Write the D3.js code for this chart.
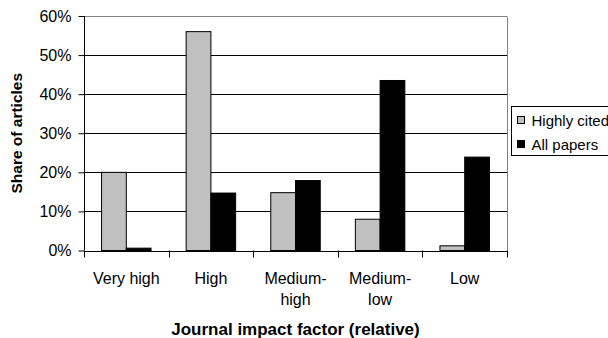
<!DOCTYPE html>
<html>
<head>
<meta charset="utf-8">
<script src="https://cdn.jsdelivr.net/npm/d3@7"></script>
<style>
  body { margin: 0; background: #fff; }
  text { font-family: Arial, "Liberation Sans", sans-serif; fill: #000; }
</style>
</head>
<body>
<div id="chart"></div>
<script>
// data
var categories = ['Very high', 'High', 'Medium-high', 'Medium-low', 'Low'];
var categoryLines = [['Very high'], ['High'], ['Medium-', 'high'], ['Medium-', 'low'], ['Low']];
var seriesNames = ['Highly cited', 'All papers'];
var highlyCited = [0.20, 0.56, 0.148, 0.08, 0.012];
var allPapers = [0.006, 0.147, 0.179, 0.435, 0.239];
var yTicks = [0, 0.1, 0.2, 0.3, 0.4, 0.5, 0.6];
var colors = ['#c0c0c0', '#000000'];

var width = 608,
  height = 338,
  plotLeft = 84,
  plotRight = 507,
  plotTop = 16,
  plotBottom = 250.5;

var svg = d3.select('#chart')
  .append('svg')
  .attr('width', width)
  .attr('height', height);

var x = d3.scaleBand().domain(categories).range([plotLeft, plotRight]).padding(0);
var xs = d3.scaleBand().domain(seriesNames).range([0, x.bandwidth()])
  .paddingInner(0).paddingOuter(0.71);
var y = d3.scaleLinear().domain([0, 0.6]).range([plotBottom, plotTop]);

// gridlines
svg.append('g')
  .selectAll('line')
  .data(yTicks.slice(1))
  .join('line')
  .attr('x1', plotLeft)
  .attr('x2', plotRight)
  .attr('y1', function(d) { return Math.round(y(d)) + 0.5; })
  .attr('y2', function(d) { return Math.round(y(d)) + 0.5; })
  .attr('stroke', function(d) { return d === 0.6 ? '#808080' : '#000'; })
  .attr('stroke-width', 1);

// right border
svg.append('line')
  .attr('x1', plotRight + 0.5).attr('x2', plotRight + 0.5)
  .attr('y1', Math.round(plotTop) + 0.5).attr('y2', plotBottom)
  .attr('stroke', '#808080');

// bars
var rows = categories.map(function(c, i) {
  return { cat: c, values: [highlyCited[i], allPapers[i]] };
});

var groups = svg.append('g')
  .selectAll('g')
  .data(rows)
  .join('g')
  .attr('transform', function(d) { return 'translate(' + x(d.cat) + ',0)'; });

groups.selectAll('rect')
  .data(function(d) {
    return d.values.map(function(v, j) { return { name: seriesNames[j], value: v, idx: j }; });
  })
  .join('rect')
  .attr('x', function(d) { return xs(d.name); })
  .attr('y', function(d) { return y(d.value); })
  .attr('width', xs.bandwidth())
  .attr('height', function(d) { return plotBottom - y(d.value); })
  .attr('fill', function(d) { return colors[d.idx]; })
  .attr('stroke', '#000')
  .attr('stroke-width', 1);

// y axis
var yAxis = svg.append('g')
  .attr('transform', 'translate(' + (plotLeft + 0.5) + ',0)')
  .call(d3.axisLeft(y).tickValues(yTicks).tickFormat(d3.format('.0%')).tickSize(6).tickPadding(7));
yAxis.select('.domain').attr('stroke', '#000').attr('d', 'M0,' + plotTop + 'V' + plotBottom);
yAxis.selectAll('.tick line').attr('stroke', '#000');
yAxis.selectAll('.tick text').attr('font-size', '16px').attr('font-family', 'Arial, "Liberation Sans", sans-serif');

// x axis
var boundaries = d3.range(categories.length + 1).map(function(i) { return plotLeft + i * x.step(); });
svg.append('line')
  .attr('x1', plotLeft).attr('x2', plotRight + 1)
  .attr('y1', Math.round(plotBottom) + 0.5).attr('y2', Math.round(plotBottom) + 0.5)
  .attr('stroke', '#000');
svg.append('g')
  .selectAll('line')
  .data(boundaries)
  .join('line')
  .attr('x1', function(d) { return Math.round(d) + 0.5; })
  .attr('x2', function(d) { return Math.round(d) + 0.5; })
  .attr('y1', plotBottom)
  .attr('y2', plotBottom + 7)
  .attr('stroke', '#000');

var labels = svg.append('g')
  .selectAll('text')
  .data(categories)
  .join('text')
  .attr('text-anchor', 'middle')
  .attr('font-size', '16px')
  .attr('x', function(d) { return x(d) + x.bandwidth() / 2; })
  .attr('y', 284);
labels.selectAll('tspan')
  .data(function(d, i) { return categoryLines[i]; })
  .join('tspan')
  .attr('x', function() { var c = this.parentNode.__data__; return x(c) + x.bandwidth() / 2; })
  .attr('dy', function(d, i) { return i === 0 ? 0 : 21; })
  .text(function(d) { return d; });

// axis titles
svg.append('text')
  .attr('x', (plotLeft + plotRight) / 2)
  .attr('y', 335)
  .attr('text-anchor', 'middle')
  .attr('font-size', '17px')
  .attr('font-weight', 'bold')
  .text('Journal impact factor (relative)');

svg.append('text')
  .attr('transform', 'translate(22,' + ((plotTop + plotBottom) / 2) + ') rotate(-90)')
  .attr('text-anchor', 'middle')
  .attr('font-size', '15.5px')
  .attr('font-weight', 'bold')
  .text('Share of articles');

// legend
var legend = svg.append('g').attr('transform', 'translate(511.5,106.5)');
legend.append('rect')
  .attr('width', 110)
  .attr('height', 49)
  .attr('fill', '#fff')
  .attr('stroke', '#000');
var items = legend.selectAll('g')
  .data(seriesNames)
  .join('g')
  .attr('transform', function(d, i) { return 'translate(0,' + (10 + i * 24) + ')'; });
items.append('rect')
  .attr('x', 6)
  .attr('y', 0)
  .attr('width', 7)
  .attr('height', 7)
  .attr('fill', function(d, i) { return colors[i]; })
  .attr('stroke', '#000');
items.append('text')
  .attr('x', 20)
  .attr('y', 9)
  .attr('font-size', '15px')
  .text(function(d) { return d; });
</script>
</body>
</html>
